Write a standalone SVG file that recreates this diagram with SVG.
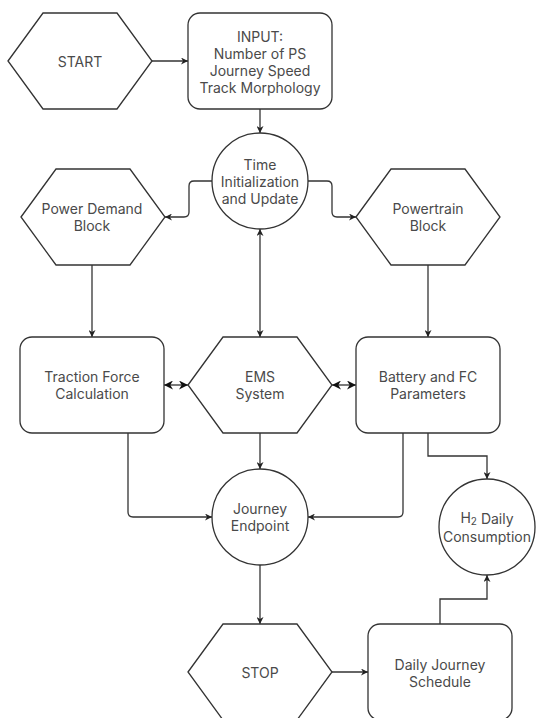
<svg xmlns="http://www.w3.org/2000/svg" width="536" height="718" viewBox="0 0 536 718">
<defs>
<style>
.s{fill:#fff;stroke:#333;stroke-width:1.3}
.c{fill:none;stroke:#333;stroke-width:1.3}
text{font-family:Inter,"Open Sans","DejaVu Sans",sans-serif;font-size:14px;fill:#4a4a4a;text-anchor:middle;dominant-baseline:central}
</style>
<marker id="ae" viewBox="0 0 10 10" refX="10" refY="5" markerWidth="7" markerHeight="7" markerUnits="userSpaceOnUse" orient="auto">
<path d="M0,0 L10,5 L0,10 L3,5 Z" fill="#222"/>
</marker>
<marker id="as" viewBox="0 0 10 10" refX="0" refY="5" markerWidth="7" markerHeight="7" markerUnits="userSpaceOnUse" orient="auto">
<path d="M10,0 L0,5 L10,10 L7,5 Z" fill="#222"/>
</marker>
<marker id="be" viewBox="0 0 10 10" refX="10" refY="5" markerWidth="9" markerHeight="9" markerUnits="userSpaceOnUse" orient="auto">
<path d="M0,0 L10,5 L0,10 L3,5 Z" fill="#111"/>
</marker>
<marker id="bs" viewBox="0 0 10 10" refX="0" refY="5" markerWidth="9" markerHeight="9" markerUnits="userSpaceOnUse" orient="auto">
<path d="M10,0 L0,5 L10,10 L7,5 Z" fill="#111"/>
</marker>
</defs>
<rect width="536" height="718" fill="#fff"/>
<g id="connectors">
<path class="c" d="M152,61 H188" marker-end="url(#ae)"/>
<path class="c" d="M260,109 V133" marker-end="url(#ae)"/>
<path class="c" d="M212,181 H194 Q189,181 189,186 V212 Q189,217 184,217 H165" marker-end="url(#ae)"/>
<path class="c" d="M308,181 H327 Q332,181 332,186 V212 Q332,217 337,217 H356" marker-end="url(#ae)"/>
<path class="c" d="M260,229 V337" marker-start="url(#as)" marker-end="url(#ae)"/>
<path class="c" d="M92,265 V337" marker-end="url(#ae)"/>
<path class="c" d="M428,265 V337" marker-end="url(#ae)"/>
<path class="c" d="M164,385 H188" marker-start="url(#bs)" marker-end="url(#be)"/>
<path class="c" d="M332,385 H356" marker-start="url(#bs)" marker-end="url(#be)"/>
<path class="c" d="M260,433 V469" marker-end="url(#ae)"/>
<path class="c" d="M128,433 V512 Q128,517 133,517 H212" marker-end="url(#ae)"/>
<path class="c" d="M403,433 V512 Q403,517 398,517 H308" marker-end="url(#ae)"/>
<path class="c" d="M428,433 V456 H487 V479" marker-end="url(#ae)"/>
<path class="c" d="M260,565 V624" marker-end="url(#ae)"/>
<path class="c" d="M332,672 H368" marker-end="url(#ae)"/>
<path class="c" d="M440,624 V599 H487 V575" marker-end="url(#ae)"/>
</g>
<g id="start">
<polygon class="s" points="8,61 43,13 117,13 152,61 117,109 43,109"/>
<text x="80" y="61">START</text>
</g>
<g id="input">
<rect class="s" x="188" y="13" width="144" height="96" rx="12"/>
<text x="260" y="36.5">INPUT:</text>
<text x="260" y="53.5">Number of PS</text>
<text x="260" y="70.5">Journey Speed</text>
<text x="260" y="87.5">Track Morphology</text>
</g>
<g id="time">
<circle class="s" cx="260" cy="181" r="48"/>
<text x="260" y="164">Time</text>
<text x="260" y="181">Initialization</text>
<text x="260" y="198">and Update</text>
</g>
<g id="powerdemand">
<polygon class="s" points="21,217 56,169 130,169 165,217 130,265 56,265"/>
<text x="92" y="208.5">Power Demand</text>
<text x="92" y="225.5">Block</text>
</g>
<g id="powertrain">
<polygon class="s" points="356,217 391,169 465,169 500,217 465,265 391,265"/>
<text x="428" y="208.5">Powertrain</text>
<text x="428" y="225.5">Block</text>
</g>
<g id="traction">
<rect class="s" x="20" y="337" width="144" height="96" rx="12"/>
<text x="92" y="376.5">Traction Force</text>
<text x="92" y="393.5">Calculation</text>
</g>
<g id="ems">
<polygon class="s" points="188,385 223,337 297,337 332,385 297,433 223,433"/>
<text x="260" y="376.5">EMS</text>
<text x="260" y="393.5">System</text>
</g>
<g id="battery">
<rect class="s" x="356" y="337" width="144" height="96" rx="12"/>
<text x="428" y="376.5">Battery and FC</text>
<text x="428" y="393.5">Parameters</text>
</g>
<g id="journey">
<circle class="s" cx="260" cy="517" r="48"/>
<text x="260" y="508.5">Journey</text>
<text x="260" y="525.5">Endpoint</text>
</g>
<g id="h2">
<circle class="s" cx="487" cy="527" r="48"/>
<text x="487" y="517.5">H<tspan font-size="10" dy="3">2</tspan><tspan dy="-3"> Daily</tspan></text>
<text x="487" y="536.5">Consumption</text>
</g>
<g id="stop">
<polygon class="s" points="188,672 223,624 297,624 332,672 297,720 223,720"/>
<text x="260" y="672">STOP</text>
</g>
<g id="daily">
<rect class="s" x="368" y="624" width="144" height="96" rx="12"/>
<text x="440" y="664.5">Daily Journey</text>
<text x="440" y="681.5">Schedule</text>
</g>
</svg>
